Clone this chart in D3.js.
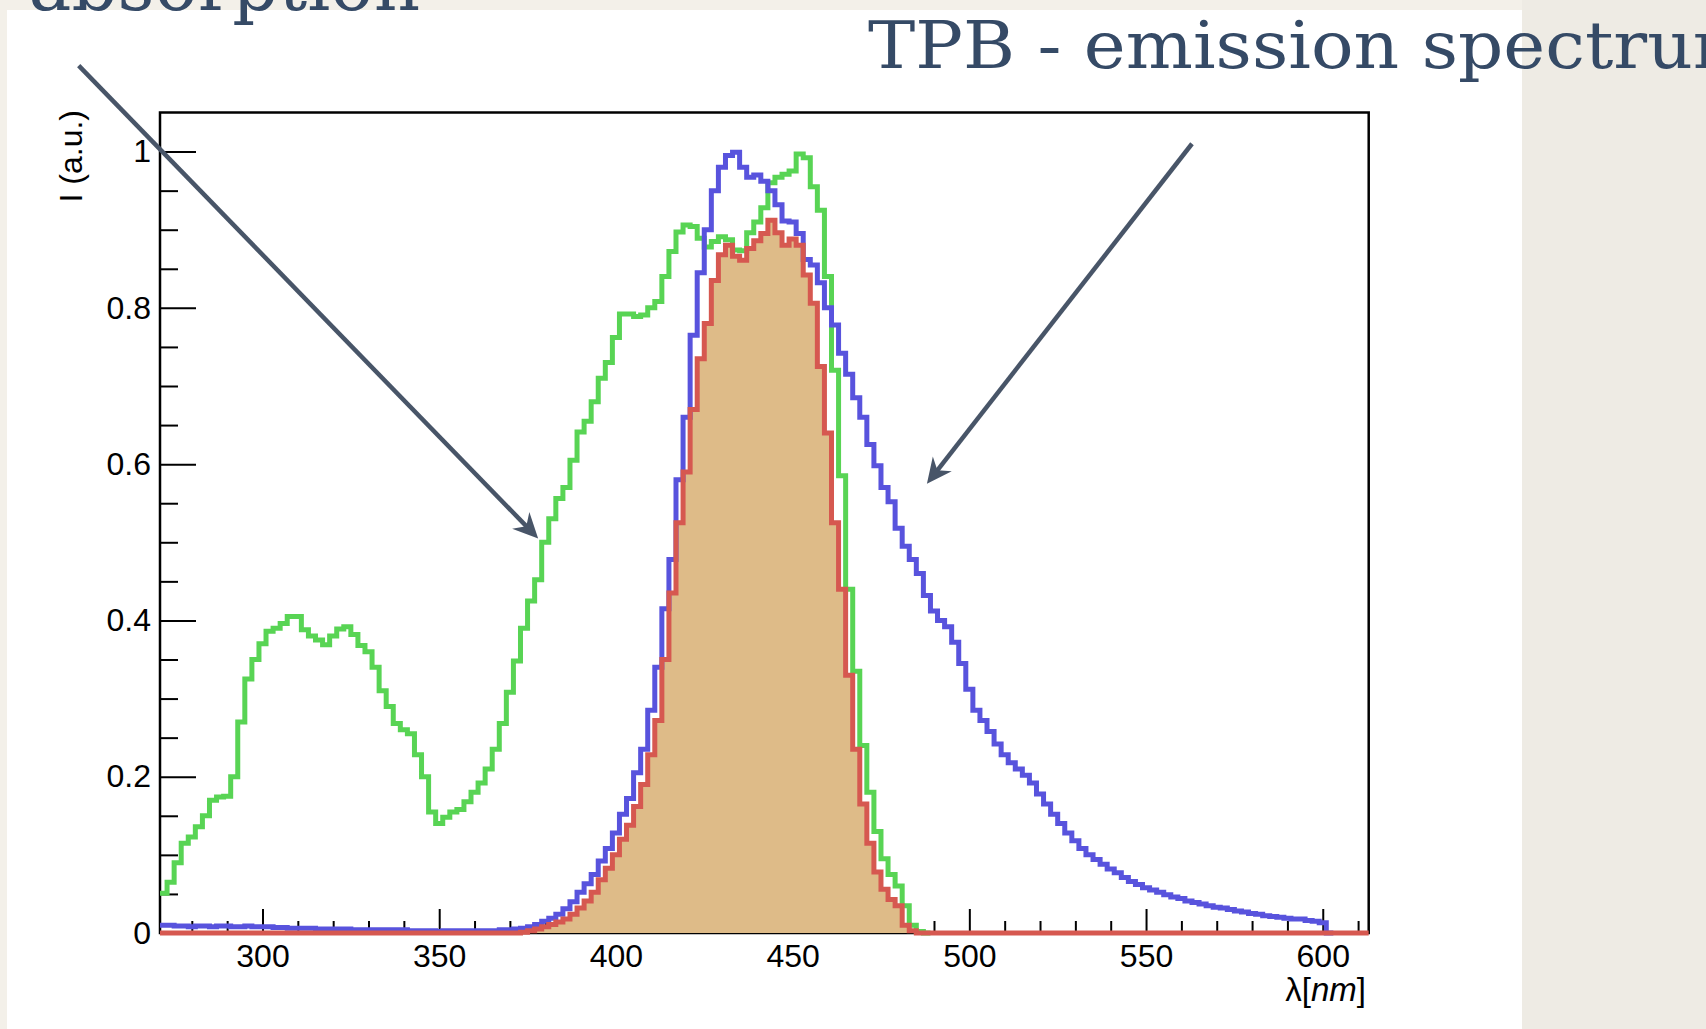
<!DOCTYPE html>
<html>
<head>
<meta charset="utf-8">
<script src="https://cdn.jsdelivr.net/npm/d3@7"></script>
<style>
  body { margin: 0; background: #f3f0e9; }
  svg { display: block; }
</style>
</head>
<body>
<svg id="chart" width="1706" height="1029"></svg>
<script>
// ------------------- data ---------------------------------------------
var binStart = 271;   // nm, lower edge of the first bin
var binWidth = 2;     // nm

// green : 272 .. 488 nm
var green = [
  0.051, 0.065, 0.090, 0.115, 0.123, 0.136, 0.150, 0.170, 0.174, 0.175,
  0.200, 0.270, 0.325, 0.350, 0.370, 0.386, 0.390, 0.396, 0.405, 0.405,
  0.388, 0.380, 0.375, 0.369, 0.380, 0.389, 0.392, 0.382, 0.368, 0.360,
  0.340, 0.310, 0.290, 0.268, 0.260, 0.255, 0.228, 0.200, 0.155, 0.140,
  0.148, 0.155, 0.158, 0.168, 0.180, 0.192, 0.210, 0.235, 0.268, 0.308,
  0.348, 0.390, 0.425, 0.452, 0.500, 0.530, 0.556, 0.570, 0.605, 0.641,
  0.655, 0.680, 0.710, 0.730, 0.762, 0.792, 0.792, 0.789, 0.791, 0.800,
  0.808, 0.840, 0.872, 0.897, 0.906, 0.904, 0.889, 0.878, 0.885, 0.891,
  0.887, 0.874, 0.873, 0.896, 0.910, 0.928, 0.960, 0.967, 0.971, 0.975,
  0.997, 0.992, 0.955, 0.925, 0.840, 0.720, 0.585, 0.440, 0.335, 0.240,
  0.180, 0.130, 0.095, 0.075, 0.060, 0.035, 0.010, 0.002, 0
];

// blue : 272 .. 602 nm
var blue = [
  0.010, 0.010, 0.009, 0.009, 0.008, 0.009, 0.009, 0.008, 0.009, 0.009,
  0.008, 0.008, 0.009, 0.008, 0.008, 0.008, 0.007, 0.007, 0.006, 0.006,
  0.006, 0.006, 0.005, 0.005, 0.005, 0.005, 0.005, 0.004, 0.004, 0.004,
  0.004, 0.004, 0.004, 0.004, 0.004, 0.003, 0.003, 0.003, 0.003, 0.002,
  0.003, 0.003, 0.003, 0.003, 0.003, 0.003, 0.003, 0.003, 0.004, 0.004,
  0.005, 0.006, 0.008, 0.011, 0.015, 0.019, 0.024, 0.031, 0.040, 0.052,
  0.063, 0.075, 0.092, 0.108, 0.128, 0.152, 0.172, 0.205, 0.235, 0.285,
  0.340, 0.415, 0.478, 0.580, 0.660, 0.765, 0.845, 0.900, 0.950, 0.980,
  0.995, 0.999, 0.980, 0.967, 0.970, 0.962, 0.950, 0.932, 0.911, 0.910,
  0.895, 0.862, 0.855, 0.832, 0.800, 0.778, 0.742, 0.715, 0.685, 0.660,
  0.625, 0.598, 0.570, 0.552, 0.518, 0.495, 0.478, 0.460, 0.432, 0.412,
  0.400, 0.392, 0.372, 0.345, 0.312, 0.285, 0.272, 0.258, 0.242, 0.228,
  0.218, 0.210, 0.202, 0.192, 0.178, 0.165, 0.152, 0.140, 0.128, 0.118,
  0.108, 0.100, 0.094, 0.088, 0.082, 0.077, 0.071, 0.066, 0.062, 0.058,
  0.055, 0.052, 0.049, 0.046, 0.044, 0.041, 0.039, 0.037, 0.035, 0.033,
  0.032, 0.030, 0.028, 0.027, 0.025, 0.024, 0.022, 0.021, 0.020, 0.019,
  0.018, 0.018, 0.016, 0.015, 0.013, 0
];

// red (filled) : 272 .. 612 nm
var red = [
  0, 0, 0, 0, 0, 0, 0, 0, 0, 0, 0, 0, 0, 0, 0, 0, 0, 0, 0, 0,
  0, 0, 0, 0, 0, 0, 0, 0, 0, 0, 0, 0, 0, 0, 0, 0, 0, 0, 0, 0,
  0, 0, 0, 0, 0, 0, 0, 0, 0, 0, 0,
  0.001, 0.003, 0.005, 0.008, 0.011, 0.014, 0.018, 0.024, 0.032, 0.041,
  0.052, 0.068, 0.083, 0.100, 0.120, 0.138, 0.162, 0.190, 0.228, 0.272,
  0.350, 0.435, 0.525, 0.590, 0.670, 0.735, 0.780, 0.835, 0.868, 0.880,
  0.866, 0.861, 0.876, 0.886, 0.895, 0.912, 0.896, 0.880, 0.888, 0.880,
  0.842, 0.806, 0.725, 0.640, 0.525, 0.440, 0.330, 0.235, 0.165, 0.115,
  0.078, 0.056, 0.043, 0.035, 0.010, 0.003,
  0, 0, 0, 0, 0, 0, 0, 0, 0, 0, 0, 0, 0, 0, 0, 0, 0, 0, 0, 0,
  0, 0, 0, 0, 0, 0, 0, 0, 0, 0, 0, 0, 0, 0, 0, 0, 0, 0, 0, 0,
  0, 0, 0, 0, 0, 0, 0, 0, 0, 0, 0, 0, 0, 0, 0, 0, 0, 0, 0, 0,
  0, 0, 0, 0
];

var xTicksMajor = [300, 350, 400, 450, 500, 550, 600];
var xTickLabels = ["300", "350", "400", "450", "500", "550", "600"];
var xTicksMinor = [280, 290, 310, 320, 330, 340, 360, 370, 380, 390, 410, 420, 430, 440,
                   460, 470, 480, 490, 510, 520, 530, 540, 560, 570, 580, 590, 610];
var yTicksMajor = [0, 0.2, 0.4, 0.6, 0.8, 1];
var yTickLabels = ["0", "0.2", "0.4", "0.6", "0.8", "1"];
var yTicksMinor = [0.05, 0.1, 0.15, 0.25, 0.3, 0.35, 0.45, 0.5, 0.55, 0.65, 0.7, 0.75, 0.85, 0.9, 0.95];

// arrows, in data units: [start, tip]
var arrowAbsorption = [[248, 1.11], [378, 0.505]];
var arrowEmission = [[563, 1.01], [488, 0.575]];

// ------------------- d3js structure ------------------------
var svg = d3.select("#chart");
var frameL = 160, frameR = 1368.7, frameT = 112.5, frameB = 933;
var sansFont = "'Liberation Sans', Arial, Helvetica, sans-serif";
var serifFont = "'DejaVu Serif', 'Liberation Serif', serif";
var slate = "#354a66";

var x = d3.scaleLinear().domain([271, 613]).range([frameL, frameR]);
var y = d3.scaleLinear().domain([0, 1.05]).range([frameB, frameT]);

// slide background + white panel
svg.append("rect").attr("x", 1522).attr("y", 0).attr("width", 184).attr("height", 1029)
    .attr("fill", "#eeebe4");
svg.append("rect").attr("x", 7).attr("y", 10).attr("width", 1515).attr("height", 1019)
    .attr("fill", "white");

// frame
svg.append("rect")
    .attr("x", frameL).attr("y", frameT)
    .attr("width", frameR - frameL).attr("height", frameB - frameT)
    .attr("fill", "none")
    .attr("stroke", "black")
    .attr("stroke-width", 2.5);

// axes (ticks inward like ROOT)
function styleAxis(g) {
  g.select(".domain").remove();
  g.selectAll("line").attr("stroke-width", 2);
  g.attr("font-family", sansFont).attr("font-size", 32);
}

svg.append("g").attr("transform", "translate(0," + frameB + ")")
    .call(d3.axisBottom(x).tickValues(xTicksMinor).tickSize(-12).tickFormat(""))
    .call(styleAxis);
svg.append("g").attr("transform", "translate(0," + frameB + ")")
    .call(d3.axisBottom(x).tickValues(xTicksMajor).tickSize(-24).tickPadding(11)
      .tickFormat(function(d){ return xTickLabels[xTicksMajor.indexOf(d)]; }))
    .call(styleAxis);

svg.append("g").attr("transform", "translate(" + frameL + ",0)")
    .call(d3.axisLeft(y).tickValues(yTicksMinor).tickSize(-18).tickFormat(""))
    .call(styleAxis);
svg.append("g").attr("transform", "translate(" + frameL + ",0)")
    .call(d3.axisLeft(y).tickValues(yTicksMajor).tickSize(-36).tickPadding(9)
      .tickFormat(function(d){ return yTickLabels[yTicksMajor.indexOf(d)]; }))
    .call(styleAxis);

// axis titles
svg.append("text")
    .attr("transform", "translate(82,110) rotate(-90)")
    .attr("text-anchor", "end")
    .attr("font-family", sansFont)
    .attr("font-size", 32)
    .text("I (a.u.)");

var xTitle = svg.append("text")
    .attr("x", 1366).attr("y", 1001)
    .attr("text-anchor", "end")
    .attr("font-family", sansFont)
    .attr("font-size", 33);
xTitle.append("tspan").text("λ[");
xTitle.append("tspan").attr("font-style", "italic").text("nm");
xTitle.append("tspan").text("]");

// histograms as step curves
function binPoints(vals) {
  var pts = vals.map(function(v, i){ return [binStart + i * binWidth, v]; });
  pts.push([binStart + vals.length * binWidth, vals[vals.length - 1]]);
  return pts;
}

var stepLine = d3.line()
    .x(function(d){ return x(d[0]); })
    .y(function(d){ return y(d[1]); })
    .curve(d3.curveStepAfter);

var stepArea = d3.area()
    .x(function(d){ return x(d[0]); })
    .y0(y(0))
    .y1(function(d){ return y(d[1]); })
    .curve(d3.curveStepAfter);

svg.append("path")
    .attr("d", stepArea(binPoints(red)))
    .attr("fill", "#debb88");

var series = [
  {vals: green, color: "#58d454"},
  {vals: blue, color: "#5853dd"},
  {vals: red, color: "#d65850"}
];

svg.selectAll(".hist")
  .data(series)
.enter().append("path")
  .attr("class", "hist")
  .attr("d", function(d){ return stepLine(binPoints(d.vals)); })
  .attr("fill", "none")
  .attr("stroke", function(d){ return d.color; })
  .attr("stroke-width", 5);

// arrows
function drawArrow(a) {
  var sx = x(a[0][0]), sy = y(a[0][1]);
  var tx = x(a[1][0]), ty = y(a[1][1]);
  var len = Math.hypot(tx - sx, ty - sy);
  var ux = (tx - sx) / len, uy = (ty - sy) / len;
  var nx = -uy, ny = ux;
  svg.append("line")
      .attr("x1", sx).attr("y1", sy)
      .attr("x2", tx - 16 * ux).attr("y2", ty - 16 * uy)
      .attr("stroke", "#485568")
      .attr("stroke-width", 4.5);
  svg.append("path")
      .attr("d", "M" + tx + "," + ty +
        "L" + (tx - 25 * ux + 12 * nx) + "," + (ty - 25 * uy + 12 * ny) +
        "L" + (tx - 17 * ux) + "," + (ty - 17 * uy) +
        "L" + (tx - 25 * ux - 12 * nx) + "," + (ty - 25 * uy - 12 * ny) + "Z")
      .attr("fill", "#485568");
}
drawArrow(arrowAbsorption);
drawArrow(arrowEmission);

// slide titles
svg.append("text")
    .attr("x", 420).attr("y", 10)
    .attr("text-anchor", "end")
    .attr("font-family", serifFont)
    .attr("font-size", 72)
    .attr("fill", slate)
    .text("TPB - absorption");

svg.append("text")
    .attr("x", 868).attr("y", 68)
    .attr("font-family", serifFont)
    .attr("font-size", 66)
    .attr("fill", slate)
    .attr("textLength", 892)
    .attr("lengthAdjust", "spacingAndGlyphs")
    .text("TPB - emission spectrum");
</script>
</body>
</html>
